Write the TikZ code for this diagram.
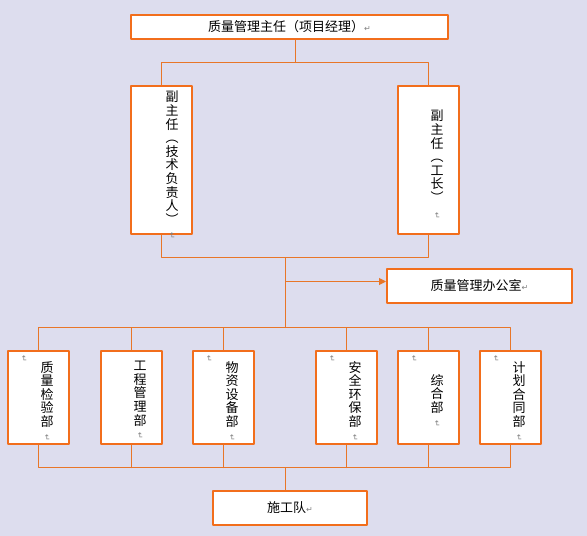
\documentclass[tikz,border=0pt]{standalone}
\usepackage{fontspec}
\usepackage{xcolor}
\usepackage{tikz}
\usetikzlibrary{arrows.meta,calc,positioning}
\newfontfamily\cjk{Noto Sans CJK SC}
\newfontfamily\symf{DejaVu Sans}
\definecolor{bgcol}{RGB}{221,221,238}
\definecolor{boxcol}{RGB}{242,110,28}
\definecolor{linkcol}{RGB}{232,118,40}
\newcommand{\pmark}{{\symf\color{gray}\fontsize{8}{8}\selectfont ↵}}
\newcommand{\vmark}{\rotatebox[origin=c]{-90}{\pmark}}

\begin{document}
\begin{tikzpicture}[x=1pt,y=-1pt,line cap=round,line join=round,>={Triangle[length=7pt,width=7pt]},
  box/.style={draw=boxcol,line width=2pt,fill=white,inner sep=0pt},
  dept/.style={box,minimum width=61pt,minimum height=93pt},
  vice/.style={box,minimum width=61pt,minimum height=148pt},
  txt/.style={inner sep=0pt,align=center,font=\cjk\fontsize{13}{13.6}\selectfont},
  link/.style={draw=linkcol,line width=1pt}]
\fill[bgcol] (0,0) rectangle (587,536);
%\draw[step=10pt,gray,very thin] (0,0) grid (587,536);
\coordinate (j0) at (295.5,62.5);
\coordinate (j1) at (285.5,257.5);
\coordinate (ja) at (285.5,281.5);
\coordinate (j2) at (285.5,327.5);
\coordinate (j3) at (285.5,467.5);
% boxes
\node[box,minimum width=317pt,minimum height=24pt,txt] (top) at (289.5,27) {质量管理主任（项目经理）\pmark};
\node[vice] (vl) at (161.5,160) {};
\node[vice] (vr) at (428.5,160) {};
\node[box,minimum width=185pt,minimum height=34pt,txt] (off) at (479.5,286) {质量管理办公室\pmark};
\node[dept] (d1) at (38.5,397.5) {};
\node[dept] (d2) at (131.5,397.5) {};
\node[dept] (d3) at (223.5,397.5) {};
\node[dept] (d4) at (346.5,397.5) {};
\node[dept] (d5) at (428.5,397.5) {};
\node[dept] (d6) at (510.5,397.5) {};
\node[box,minimum width=154pt,minimum height=34pt,txt] (team) at (290,508) {施工队\pmark};
% vertical texts
\node[txt,anchor=north] (vl-t) at (172,91) {副\\主\\任\\︵\\技\\术\\负\\责\\人\\︶\\\vmark};
\node[txt,anchor=north] (vr-t) at (437,110) {副\\主\\任\\︵\\工\\长\\︶\\[2pt]\vmark};
\node[txt,anchor=north] (d1-t) at (47,361) {质\\量\\检\\验\\部\\\vmark};
\node[txt,anchor=north] (d2-t) at (140,361) {工\\程\\管\\理\\部\\\vmark};
\node[txt,anchor=north] (d3-t) at (232,361) {物\\资\\设\\备\\部\\\vmark};
\node[txt,anchor=north] (d4-t) at (355,361) {安\\全\\环\\保\\部\\\vmark};
\node[txt,anchor=north] (d5-t) at (437,374) {综\\合\\部\\\vmark};
\node[txt,anchor=north] (d6-t) at (519,361) {计\\划\\合\\同\\部\\\vmark};
\foreach \d in {d1,d3,d4,d5,d6}
  \node[inner sep=0pt] (\d-m) at ($(\d.north west)+(17,9)$) {\vmark};
% connectors
\draw[link] (top.south -| j0) -- (j0);
\draw[link] (vl.north) |- (j0) -| (vr.north);
\draw[link] (vl.south) |- (j1) -| (vr.south);
\draw[link] (j1) -- (j2);
\draw[link,->,fill=linkcol] (ja) -- (ja -| off.west);
\draw[link] (d1.north) |- (j2) -| (d6.north);
\draw[link] (d1.south) |- (j3) -| (d6.south);
\foreach \d in {d2,d3,d4,d5}{
  \draw[link] (\d.north) -- (\d.north |- j2);
  \draw[link] (\d.south) -- (\d.south |- j3);
}
\draw[link] (j3) -- (team.north -| j3);
\end{tikzpicture}
\end{document}
